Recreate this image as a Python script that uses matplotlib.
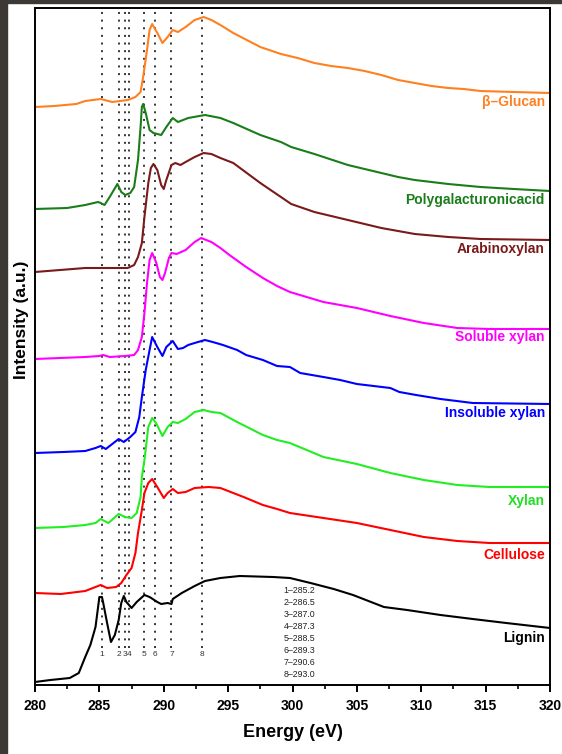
import matplotlib
matplotlib.use("Agg")
import matplotlib.pyplot as plt
from matplotlib.patches import Rectangle
from matplotlib.ticker import MultipleLocator

plt.rcParams["font.family"] = ["Liberation Sans", "DejaVu Sans"]

# C K-edge NEXAFS spectra, offset vertically
glucan_e = [280.0, 281.5, 283.2, 283.9, 285.1, 286.0, 287.2, 287.8, 288.2, 288.4, 288.7, 288.9,
            289.1, 289.5, 289.9, 290.3, 290.7, 291.1, 291.7, 292.4, 293.1, 293.7, 294.4, 295.4,
            297.5, 299.1, 300.4, 301.7, 303.0, 304.3, 305.6, 306.9, 308.2, 309.5, 310.8, 312.1,
            313.3, 314.6, 317.2, 320.0]
glucan_i = [57.8, 57.9, 58.1, 58.4, 58.6, 58.3, 58.5, 58.8, 59.3, 60.8, 63.5, 65.5,
            66.1, 65.2, 64.2, 64.8, 65.5, 65.3, 65.8, 66.5, 66.8, 66.5, 66.0, 65.2,
            63.8, 63.1, 62.7, 62.2, 61.9, 61.7, 61.4, 61.0, 60.5, 60.2, 59.9, 59.7,
            59.6, 59.4, 59.3, 59.2]

pga_e = [280.0, 282.5, 283.9, 284.9, 285.1, 285.4, 285.8, 286.4, 286.7, 287.0, 287.4, 287.7,
         288.0, 288.2, 288.3, 288.4, 288.6, 288.9, 289.2, 289.8, 290.2, 290.7, 291.1, 291.9,
         293.2, 294.4, 295.4, 297.5, 299.1, 299.9, 301.7, 304.3, 306.9, 308.2, 309.5, 312.1,
         314.6, 317.2, 320.0]
pga_i = [47.6, 47.7, 48.0, 48.3, 48.2, 48.0, 48.8, 50.1, 49.3, 49.0, 49.2, 49.8,
         52.5, 55.8, 57.8, 58.1, 57.2, 55.5, 55.2, 55.0, 55.8, 56.7, 56.3, 56.7,
         57.0, 56.7, 56.2, 55.0, 54.3, 53.8, 53.1, 52.0, 51.2, 50.8, 50.5, 50.1,
         49.8, 49.6, 49.4]

arabino_e = [280.0, 283.9, 287.2, 287.7, 288.0, 288.3, 288.5, 288.8, 289.0, 289.2, 289.5,
             289.8, 290.0, 290.2, 290.6, 290.9, 291.3, 291.7, 292.4, 293.1, 293.7, 294.4,
             295.4, 297.5, 299.1, 299.9, 301.7, 304.3, 306.9, 309.5, 312.1, 314.6, 320.0]
arabino_i = [41.3, 41.7, 41.7, 42.0, 42.8, 44.2, 46.8, 50.2, 51.7, 52.1, 51.5,
             50.0, 49.6, 50.5, 52.0, 52.2, 52.0, 52.3, 52.8, 53.2, 53.1, 52.7,
             52.2, 50.2, 48.8, 48.1, 47.3, 46.5, 45.7, 45.1, 44.8, 44.6, 44.5]

sol_e = [280.0, 283.9, 285.0, 285.3, 285.8, 287.0, 287.7, 288.0, 288.3, 288.5, 288.7, 288.9,
         289.1, 289.4, 289.7, 289.9, 290.1, 290.4, 290.6, 291.0, 291.7, 292.4, 292.9, 293.7,
         294.4, 295.1, 296.4, 297.7, 298.8, 299.8, 302.4, 305.0, 307.6, 310.2, 312.8, 315.3,
         320.0]
sol_i = [32.6, 32.8, 32.9, 33.0, 32.8, 32.9, 33.0, 33.5, 34.8, 37.2, 40.2, 42.5,
         43.2, 42.3, 40.8, 40.5, 41.2, 42.7, 43.2, 43.1, 43.5, 44.3, 44.7, 44.3,
         43.7, 43.0, 41.8, 40.7, 39.9, 39.3, 38.3, 37.7, 36.9, 36.2, 35.7, 35.6,
         35.6]

insol_e = [280.0, 282.2, 283.9, 284.7, 285.1, 285.5, 286.1, 286.5, 286.9, 287.4, 287.8, 288.1,
           288.3, 288.6, 288.9, 289.1, 289.5, 289.9, 290.2, 290.7, 291.1, 291.5, 291.9, 292.4,
           293.2, 293.8, 294.6, 295.7, 296.4, 297.7, 298.8, 299.8, 300.6, 302.4, 303.7, 305.0,
           307.6, 308.3, 309.6, 311.5, 314.0, 320.0]
insol_i = [23.2, 23.3, 23.4, 23.7, 23.9, 23.6, 24.2, 24.6, 24.3, 24.8, 25.3, 26.8,
           28.8, 31.5, 33.5, 34.8, 33.8, 32.9, 33.8, 34.4, 33.6, 33.7, 34.0, 34.2,
           34.5, 34.3, 34.0, 33.5, 33.0, 32.5, 31.9, 31.8, 31.2, 30.8, 30.5, 30.1,
           29.7, 29.3, 29.0, 28.6, 28.2, 28.1]

xylan_e = [280.0, 282.2, 283.9, 284.7, 285.1, 285.7, 286.5, 287.0, 287.5, 287.9, 288.2, 288.3,
           288.5, 288.8, 289.1, 289.4, 289.9, 290.3, 290.7, 291.1, 291.7, 292.4, 293.1, 293.7,
           294.4, 295.7, 297.7, 298.8, 299.8, 302.4, 305.0, 307.6, 310.2, 312.8, 315.3, 320.0]
xylan_i = [15.7, 15.8, 16.0, 16.2, 16.6, 16.2, 17.1, 16.8, 16.7, 17.2, 18.8, 20.8,
           22.5, 25.8, 26.7, 26.2, 24.9, 25.8, 26.3, 26.2, 26.6, 27.3, 27.5, 27.3,
           27.2, 26.3, 25.0, 24.5, 24.2, 22.8, 22.1, 21.2, 20.5, 20.0, 19.8, 19.8]

cell_e = [280.0, 282.0, 283.9, 284.9, 285.1, 285.6, 286.3, 286.7, 287.1, 287.5, 287.8, 288.0,
          288.3, 288.5, 288.8, 289.1, 289.5, 290.0, 290.3, 290.7, 291.1, 291.7, 292.4, 293.5,
          294.4, 296.2, 297.7, 298.8, 299.8, 302.4, 305.0, 307.6, 310.2, 312.8, 315.3, 320.0]
cell_i = [9.2, 9.1, 9.4, 9.9, 10.0, 9.7, 9.8, 10.2, 11.0, 11.7, 13.2, 15.2,
          17.5, 19.2, 20.2, 20.6, 19.8, 18.7, 19.2, 19.6, 19.2, 19.3, 19.7, 19.8,
          19.7, 18.8, 18.0, 17.6, 17.2, 16.7, 16.2, 15.5, 14.8, 14.4, 14.2, 14.2]

lignin_e = [280.0, 281.2, 282.7, 283.4, 283.9, 284.3, 284.7, 284.9, 285.0, 285.2, 285.3, 285.6,
            285.9, 286.2, 286.5, 286.7, 286.9, 287.1, 287.5, 287.9, 288.5, 288.9, 289.5, 289.8,
            290.3, 290.6, 290.7, 291.4, 292.4, 293.2, 294.4, 295.9, 298.5, 299.8, 301.4, 303.2,
            304.7, 306.3, 307.1, 308.9, 311.5, 314.0, 316.6, 320.0]
lignin_i = [0.3, 0.5, 0.7, 1.2, 2.8, 4.0, 5.8, 7.8, 8.8, 8.8, 8.2, 6.2,
            4.3, 5.0, 6.5, 8.2, 8.9, 8.3, 7.7, 8.3, 9.0, 8.8, 8.3, 8.1,
            8.2, 8.1, 8.6, 9.2, 9.9, 10.4, 10.7, 10.9, 10.8, 10.7, 10.2, 9.6,
            9.0, 8.2, 7.8, 7.5, 7.0, 6.6, 6.2, 5.7]

names = ["\u03b2\u2013Glucan", "Polygalacturonicacid", "Arabinoxylan", "Soluble xylan",
         "Insoluble xylan", "Xylan", "Cellulose", "Lignin"]
label_y = [58.3, 48.5, 43.6, 34.8, 27.2, 18.4, 13.0, 4.7]
colors = ["#ff8020", "#1a7d1a", "#7a1a1a", "#ff00ff", "#0000ff", "#22ee22", "#ff0000", "#000000"]
text_colors = ["#ff8020", "#1a7d1a", "#7a1a1a", "#ff00ff", "#0000ff", "#22dd22", "#ff0000", "#000000"]

peak_e = [285.2, 286.5, 287.0, 287.3, 288.5, 289.3, 290.6, 293.0]

curves = [(glucan_e, glucan_i), (pga_e, pga_i), (arabino_e, arabino_i), (sol_e, sol_i),
          (insol_e, insol_i), (xylan_e, xylan_i), (cell_e, cell_i), (lignin_e, lignin_i)]

fig = plt.figure(figsize=(5.62, 7.54), dpi=100)
ax = fig.add_axes([35 / 562, 69 / 754, 515 / 562, 677 / 754])

for i, e in enumerate(peak_e):
    ax.plot([e, e], [3.7, 67.7], color="black", lw=1.1, linestyle=(0, (1.3, 3.7)), zorder=1)
    ax.text(e, 3.1, str(i + 1), fontsize=6, color="#333333", ha="center", va="center")

for (e, y), c in zip(curves, colors):
    ax.plot(e, y, color=c, lw=1.5, zorder=2, solid_joinstyle="round")

for name, y, c in zip(names, label_y, text_colors):
    ax.text(319.6, y, name, color=c, fontsize=10, fontweight="bold", ha="right", va="center")

peak_txt = "\n".join(f"{i + 1}\u2013{e:.1f}" for i, e in enumerate(peak_e))
ax.text(299.3, 9.9, peak_txt, fontsize=6.3, color="#222222", ha="left", va="top",
        linespacing=1.42)

ax.set_xlim(280, 320)
ax.set_ylim(0, 67.7)
ax.xaxis.set_major_locator(MultipleLocator(5))
ax.xaxis.set_minor_locator(MultipleLocator(2.5))
ax.set_yticks([])
ax.tick_params(axis="x", which="major", direction="out", length=5, width=1.4,
               labelsize=10, pad=5)
ax.tick_params(axis="x", which="minor", direction="out", length=3, width=1.2)
for lbl in ax.get_xticklabels():
    lbl.set_fontweight("bold")
for s in ax.spines.values():
    s.set_linewidth(1.4)

ax.set_xlabel("Energy (eV)", fontsize=13, fontweight="bold", labelpad=8)
ax.set_ylabel("Intensity (a.u.)", fontsize=12.5, fontweight="bold")
ax.yaxis.set_label_coords(-0.012, 0.539)

# dark frame around the screenshot
fig.patches.append(Rectangle((0, 0), 7 / 562, 1, transform=fig.transFigure,
                             color="#3b3835", zorder=10))
fig.patches.append(Rectangle((0, 1 - 3 / 754), 1, 3 / 754, transform=fig.transFigure,
                             color="#3b3835", zorder=10))

fig.savefig("out.png", dpi=100)
